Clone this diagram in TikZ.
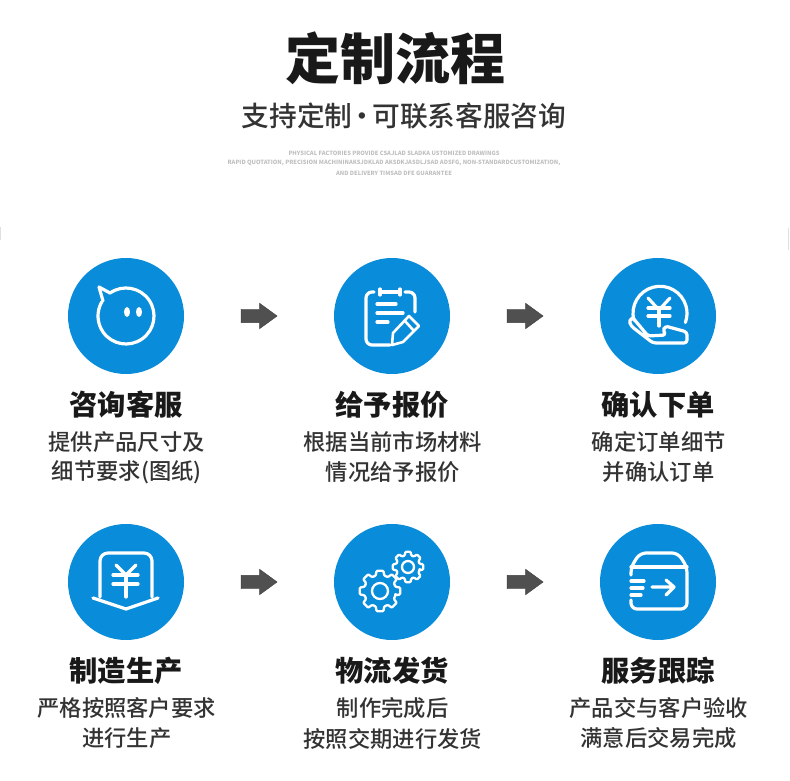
\documentclass[tikz,border=0pt]{standalone}
\usepackage{fontspec}
\setmainfont{Noto Sans CJK SC}
\newfontfamily\mediumfont{Noto Sans CJK SC}[UprightFont=* Medium]
\usetikzlibrary{positioning, shapes.arrows}
\definecolor{stepblue}{HTML}{098CD9}
\definecolor{arrowgray}{HTML}{505050}
\tikzset{
  stepcircle/.style={circle, fill=stepblue, minimum size=116pt, inner sep=0pt},
  flowarrow/.style={single arrow, draw=arrowgray!80!black, fill=arrowgray, inner xsep=0pt, inner ysep=6.5pt, minimum height=36pt, single arrow head extend=6pt, single arrow tip angle=72},
  steptitle/.style={font=\fontsize{28.3}{29}\selectfont\bfseries, text=black!90, inner sep=0pt},
  steptext/.style={font=\fontsize{22.3}{23}\selectfont\mediumfont, text=black!80, inner sep=0pt},
  finetext/.style={font=\fontsize{5.8}{6}\selectfont\bfseries, text=black!25, inner sep=0pt},
  iconline/.style={draw=white, line width=3.2pt, line cap=round, line join=round}
}
\begin{document}
\begin{tikzpicture}[x=1pt, y=1pt]
  \useasboundingbox (0,0) rectangle (790,780);

  % Heading
  \node[font=\fontsize{55}{56}\selectfont\bfseries, text=black!90, inner sep=0pt] (heading) at (395,722) {定制流程};
  \node[font=\fontsize{27.7}{28}\selectfont\mediumfont, text=black!80, inner sep=0pt] (subheading) at (404,664) {支持定制\makebox[20pt]{·}可联系客服咨询};
  \node[finetext] (fineone) at (394,627) {PHYSICAL FACTORIES PROVIDE CSAJLAD SLADKA USTOMIZED DRAWINGS};
  \node[finetext] (finetwo) at (394,617.5) {RAPID QUOTATION, PRECISION MACHININAKSJDKLAD AKSDKJASDLJSAD ADSFG, NON-STANDARDCUSTOMIZATION,};
  \node[finetext] (finethree) at (394,607) {AND DELIVERY TIMSAD DFE GUARANTEE};

  % Steps
  \foreach \n/\x/\y/\steptitle/\lineone/\linetwo in {
    1/126/464/咨询客服/提供产品尺寸及/细节要求(图纸),
    2/392/464/给予报价/根据当前市场材料/情况给予报价,
    3/658/464/确认下单/确定订单细节/并确认订单,
    4/126/198/制造生产/严格按照客户要求/进行生产,
    5/392/198/物流发货/制作完成后/按照交期进行发货,
    6/658/198/服务跟踪/产品交与客户验收/满意后交易完成}
  {
    \node[stepcircle] (circle\n) at (\x,\y) {};
    \node[steptitle] (title\n) at (\x,\y-89) {\steptitle};
    \node[steptext] (lineone\n) at (\x+0.7,\y-126) {\lineone};
    \node[steptext] (linetwo\n) at (\x+0.7,\y-156.5) {\linetwo};
  }

  % Arrows between the steps
  \node[flowarrow] (arrow1) at (254.5,464) {};
  \node[flowarrow] (arrow2) at (520.5,464) {};
  \node[flowarrow] (arrow3) at (254.5,198) {};
  \node[flowarrow] (arrow4) at (520.5,198) {};

  % Face
  \begin{scope}[shift={(circle1.center)}]
    \draw[iconline] (125:28) arc[start angle=125, end angle=-210, radius=28];
    \draw[iconline] (-16,23) -- (-27,29) -- (-23,15);
    \fill[white] (1,4) ellipse (3 and 5);
    \fill[white] (13,4) ellipse (3 and 5);
  \end{scope}

  % Clipboard and pencil
  \begin{scope}[shift={(circle2.center)}]
    \draw[iconline] (-12,24) -- (8,24) (-12,27) -- (-12,21) (8,27) -- (8,21);
    \draw[iconline, rounded corners=6pt] (-18,24) -- (-26,24) -- (-26,-29) -- (-2,-29);
    \draw[iconline, rounded corners=6pt] (13,24) -- (23,24) -- (23,4);
    \draw[iconline] (-15,12) -- (4,12) (-15,3) -- (11,3) (-15,-6) -- (-4,-6);
    \draw[iconline, line width=2.6pt] (1,-17) -- (17,0) -- (27,-10) -- (11,-26) -- (0,-29) -- cycle;
    \draw[iconline, line width=2.6pt] (13,-5) -- (22,-15);
  \end{scope}

  % Coin in a hand
  \begin{scope}[shift={(circle3.center)}]
    \draw[iconline] (2,2.7) ++(195:27) arc[start angle=195, end angle=-20, radius=27];
    \draw[iconline] (-10,18) -- (1,6) -- (12,18);
    \draw[iconline] (1,6) -- (1,-10);
    \draw[iconline] (-10,8) -- (12,8) (-10,0) -- (12,0);
    \draw[iconline, rounded corners=3pt] (-25,-2) -- (-29,-4) -- (-27,-10) -- (-5,-27) -- (29,-27) -- (29,-16) -- (7,-10) -- (5,-15) -- (8,-19) -- (-10,-20) -- (-25,-2);
  \end{scope}

  % Yen document
  \begin{scope}[shift={(circle4.center)}]
    \draw[iconline, rounded corners=8pt] (-26,-15) -- (-26,29) -- (26,29) -- (26,-15);
    \draw[iconline] (-33,-16) -- (0,-27) -- (32,-16);
    \draw[iconline] (-10,17) -- (0,7) -- (10,17);
    \draw[iconline] (0,7) -- (0,-15);
    \draw[iconline] (-13,7) -- (12,7) (-13,-2) -- (12,-2);
  \end{scope}

  % Gears
  \begin{scope}[shift={(circle5.center)}]
    \draw[iconline, line width=2.3pt, rounded corners=1pt, shift={(-12,-9)}] (-15:16) \foreach \a in {0,45,...,315} { -- (\a-15:16) -- (\a-10:20.5) -- (\a+10:20.5) -- (\a+15:16)} -- cycle;
    \draw[iconline, line width=2.3pt, shift={(-12,-9)}] (0,0) circle (8);
    \draw[iconline, line width=2.3pt, rounded corners=1pt, shift={(16,15)}] (-15:12) \foreach \a in {0,45,...,315} { -- (\a-15:12) -- (\a-10:15.5) -- (\a+10:15.5) -- (\a+15:12)} -- cycle;
    \draw[iconline, line width=2.3pt, shift={(16,15)}] (0,0) circle (6);
  \end{scope}

  % Parcel
  \begin{scope}[shift={(circle6.center)}]
    \draw[iconline, rounded corners=6pt] (-27,7) -- (-27,15) -- (-18,29) -- (20,29) -- (29,15) -- (29,-27) -- (-27,-27) -- (-27,-18);
    \draw[iconline] (-27,15) -- (29,15);
    \draw[iconline] (-27,1) -- (-14,1) (-27,-6) -- (-15,-6) (-27,-13) -- (-17,-13);
    \draw[iconline] (-6,-5) -- (15,-5) (8,2) -- (16,-5) -- (8,-13);
  \end{scope}

  % Faint edge marks
  \fill[black!12] (0,540) rectangle (1,553);
  \fill[black!12] (788,530) rectangle (789,552);
\end{tikzpicture}
\end{document}
